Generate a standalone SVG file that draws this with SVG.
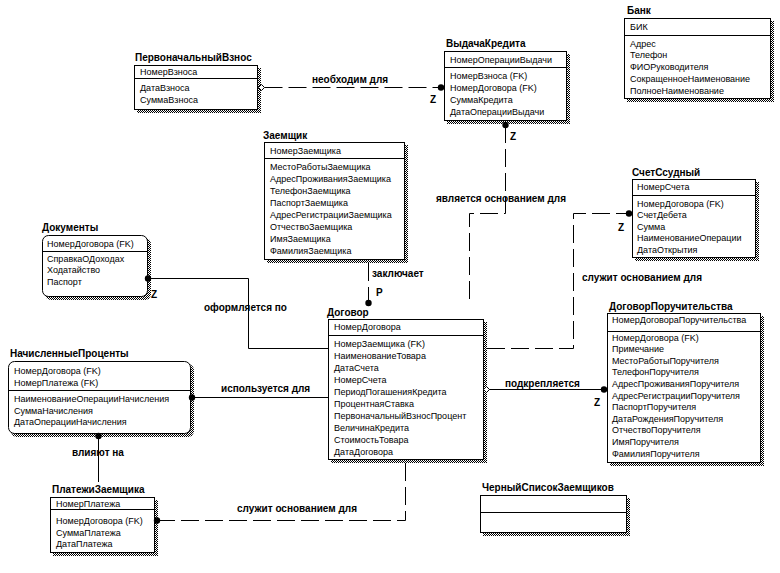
<svg xmlns="http://www.w3.org/2000/svg" width="780" height="573" viewBox="0 0 780 573">
<defs>
<pattern id="dots" width="2" height="2" patternUnits="userSpaceOnUse"><rect width="1" height="1" fill="#000"/><rect x="1" y="1" width="1" height="1" fill="#000"/></pattern>
<style>
.t{font:bold 10px "Liberation Sans",Arial,sans-serif;fill:#000}
.a{font:9px "Liberation Sans",Arial,sans-serif;fill:#000}
.l{font:bold 10px "Liberation Sans",Arial,sans-serif;fill:#000}
.box{fill:#fff;stroke:#000;stroke-width:1}
.sh{fill:url(#dots)}
.div{stroke:#000;stroke-width:1}
.ln{stroke:#000;stroke-width:1;fill:none}
.d{stroke-dasharray:18 6}
.dot{fill:#000}
.dia{fill:#fff;stroke:#000;stroke-width:1}
</style>
</defs>
<rect width="780" height="573" fill="#fff"/>

<g id="pervonachalnyi-vznos">
<rect class="sh" x="137" y="68" width="124" height="45"/>
<rect class="box" x="134.5" y="65.5" width="123" height="44"/>
<line class="div" x1="134.5" y1="78.5" x2="257.5" y2="78.5"/>
<text class="t" x="135" y="61">ПервоначальныйВзнос</text>
<text class="a" x="140" y="75">НомерВзноса</text>
<text class="a" x="140" y="91">ДатаВзноса</text>
<text class="a" x="140" y="103">СуммаВзноса</text>
</g>

<g id="vydacha-kredita">
<rect class="sh" x="447" y="54" width="123" height="70"/>
<rect class="box" x="444.5" y="51.5" width="122" height="69"/>
<line class="div" x1="444.5" y1="67.5" x2="566.5" y2="67.5"/>
<text class="t" x="446" y="47">ВыдачаКредита</text>
<text class="a" x="450" y="63">НомерОперацииВыдачи</text>
<text class="a" x="450" y="78.5">НомерВзноса (FK)</text>
<text class="a" x="450" y="90.5">НомерДоговора (FK)</text>
<text class="a" x="450" y="102.5">СуммаКредита</text>
<text class="a" x="450" y="114.5">ДатаОперацииВыдачи</text>
</g>

<g id="bank">
<rect class="sh" x="627" y="21" width="147" height="81"/>
<rect class="box" x="624.5" y="18.5" width="146" height="80"/>
<line class="div" x1="624.5" y1="35.5" x2="770.5" y2="35.5"/>
<text class="t" x="627" y="14">Банк</text>
<text class="a" x="630" y="30">БИК</text>
<text class="a" x="630" y="46.5">Адрес</text>
<text class="a" x="630" y="58.3">Телефон</text>
<text class="a" x="630" y="70">ФИОРуководителя</text>
<text class="a" x="630" y="81.8">СокращенноеНаименование</text>
<text class="a" x="630" y="93.5">ПолноеНаименование</text>
</g>

<g id="zaemshchik">
<rect class="sh" x="267" y="145" width="141" height="118"/>
<rect class="box" x="264.5" y="142.5" width="140" height="117"/>
<line class="div" x1="264.5" y1="158.5" x2="404.5" y2="158.5"/>
<text class="t" x="263" y="138.5">Заемщик</text>
<text class="a" x="270" y="154">НомерЗаемщика</text>
<text class="a" x="270" y="170">МестоРаботыЗаемщика</text>
<text class="a" x="270" y="182">АдресПроживанияЗаемщика</text>
<text class="a" x="270" y="194">ТелефонЗаемщика</text>
<text class="a" x="270" y="206">ПаспортЗаемщика</text>
<text class="a" x="270" y="218">АдресРегистрацииЗаемщика</text>
<text class="a" x="270" y="230">ОтчествоЗаемщика</text>
<text class="a" x="270" y="242">ИмяЗаемщика</text>
<text class="a" x="270" y="254">ФамилияЗаемщика</text>
</g>

<g id="dokumenty">
<rect class="sh" x="45" y="238" width="106" height="62" rx="6"/>
<rect class="box" x="42.5" y="235.5" width="105" height="61" rx="6"/>
<line class="div" x1="42.5" y1="251.5" x2="147.5" y2="251.5"/>
<text class="t" x="42" y="231">Документы</text>
<text class="a" x="47" y="247">НомерДоговора (FK)</text>
<text class="a" x="47" y="261.5">СправкаОДоходах</text>
<text class="a" x="47" y="273">Ходатайство</text>
<text class="a" x="47" y="284.5">Паспорт</text>
</g>

<g id="schet-ssudnyi">
<rect class="sh" x="635" y="182" width="124" height="79"/>
<rect class="box" x="632.5" y="179.5" width="123" height="78"/>
<line class="div" x1="632.5" y1="195.5" x2="755.5" y2="195.5"/>
<text class="t" x="632" y="175.5">СчетСсудный</text>
<text class="a" x="637" y="190">НомерСчета</text>
<text class="a" x="637" y="206.5">НомерДоговора (FK)</text>
<text class="a" x="637" y="218">СчетДебета</text>
<text class="a" x="637" y="229.5">Сумма</text>
<text class="a" x="637" y="241">НаименованиеОперации</text>
<text class="a" x="637" y="252.5">ДатаОткрытия</text>
</g>

<g id="dogovor">
<rect class="sh" x="331" y="322" width="156" height="141"/>
<rect class="box" x="328.5" y="319.5" width="155" height="140"/>
<line class="div" x1="328.5" y1="335.5" x2="483.5" y2="335.5"/>
<text class="t" x="327" y="316">Договор</text>
<text class="a" x="334" y="329.5">НомерДоговора</text>
<text class="a" x="334" y="346.5">НомерЗаемщика (FK)</text>
<text class="a" x="334" y="358.5">НаименованиеТовара</text>
<text class="a" x="334" y="370.5">ДатаСчета</text>
<text class="a" x="334" y="382.5">НомерСчета</text>
<text class="a" x="334" y="394.5">ПериодПогашенияКредита</text>
<text class="a" x="334" y="406.5">ПроцентнаяСтавка</text>
<text class="a" x="334" y="418.5">ПервоначальныйВзносПроцент</text>
<text class="a" x="334" y="430.5">ВеличинаКредита</text>
<text class="a" x="334" y="442.5">СтоимостьТовара</text>
<text class="a" x="334" y="454.5">ДатаДоговора</text>
</g>

<g id="dogovor-poruchitelstva">
<rect class="sh" x="610" y="316" width="154" height="150"/>
<rect class="box" x="607.5" y="313.5" width="153" height="149"/>
<line class="div" x1="607.5" y1="331.5" x2="760.5" y2="331.5"/>
<text class="t" x="609" y="309.5">ДоговорПоручительства</text>
<text class="a" x="612" y="323">НомерДоговораПоручительства</text>
<text class="a" x="612" y="340.5">НомерДоговора (FK)</text>
<text class="a" x="612" y="352.1">Примечание</text>
<text class="a" x="612" y="363.7">МестоРаботыПоручителя</text>
<text class="a" x="612" y="375.3">ТелефонПоручителя</text>
<text class="a" x="612" y="386.9">АдресПроживанияПоручителя</text>
<text class="a" x="612" y="398.5">АдресРегистрацииПоручителя</text>
<text class="a" x="612" y="410.1">ПаспортПоручителя</text>
<text class="a" x="612" y="421.7">ДатаРожденияПоручителя</text>
<text class="a" x="612" y="433.3">ОтчествоПоручителя</text>
<text class="a" x="612" y="444.9">ИмяПоручителя</text>
<text class="a" x="612" y="456.5">ФамилияПоручителя</text>
</g>

<g id="nachislennye-procenty">
<rect class="sh" x="11" y="364" width="183" height="73" rx="6"/>
<rect class="box" x="8.5" y="361.5" width="182" height="72" rx="6"/>
<line class="div" x1="8.5" y1="390.5" x2="190.5" y2="390.5"/>
<text class="t" x="10" y="357">НачисленныеПроценты</text>
<text class="a" x="14" y="373.5">НомерДоговора (FK)</text>
<text class="a" x="14" y="385.5">НомерПлатежа (FK)</text>
<text class="a" x="14" y="401.5">НаименованиеОперацииНачисления</text>
<text class="a" x="14" y="413.5">СуммаНачисления</text>
<text class="a" x="14" y="425">ДатаОперацииНачисления</text>
</g>

<g id="platezhi-zaemshchika">
<rect class="sh" x="53" y="500" width="105" height="56"/>
<rect class="box" x="50.5" y="497.5" width="104" height="55"/>
<line class="div" x1="50.5" y1="509.5" x2="154.5" y2="509.5"/>
<text class="t" x="52" y="493">ПлатежиЗаемщика</text>
<text class="a" x="56" y="506.5">НомерПлатежа</text>
<text class="a" x="56" y="523.5">НомерДоговора (FK)</text>
<text class="a" x="56" y="535.5">СуммаПлатежа</text>
<text class="a" x="56" y="547">ДатаПлатежа</text>
</g>

<g id="chernyi-spisok">
<rect class="sh" x="483" y="498" width="147" height="38"/>
<rect class="box" x="480.5" y="495.5" width="146" height="37"/>
<line class="div" x1="480.5" y1="512.5" x2="626.5" y2="512.5"/>
<text class="t" x="482" y="491">ЧерныйСписокЗаемщиков</text>
</g>

<g id="connectors">
<!-- ПервоначальныйВзнос -> ВыдачаКредита -->
<path class="ln d" d="M264.5,87.5 H441"/>
<polygon class="dia" points="258.5,87.5 261.5,84.5 264.5,87.5 261.5,90.5"/>
<circle class="dot" cx="441" cy="87.5" r="3.2"/>
<text class="l" x="312" y="82.5">необходим для</text>
<text class="l" x="430" y="102.5">Z</text>

<!-- ВыдачаКредита -> Договор -->
<path class="ln d" d="M505.5,125 V213.5 H469.5 V305"/>
<circle class="dot" cx="505.5" cy="125" r="3.2"/>
<text class="l" x="510" y="139.5">Z</text>
<text class="l" x="436" y="201.5">является основанием для</text>

<!-- Заемщик -> Договор -->
<path class="ln d" d="M368.5,263 V303"/>
<circle class="dot" cx="368.5" cy="303" r="3.2"/>
<text class="l" x="372" y="276.5">заключает</text>
<text class="l" x="376" y="295.5">P</text>

<!-- Документы -> Договор -->
<path class="ln" d="M148,278.5 H248.5 V348.5 H328.5"/>
<circle class="dot" cx="148" cy="278.5" r="3.2"/>
<text class="l" x="151" y="297.5">Z</text>
<text class="l" x="204" y="310.5">оформляется по</text>

<!-- НачисленныеПроценты -> Договор -->
<path class="ln" d="M192,397.5 H328.5"/>
<circle class="dot" cx="192" cy="397.5" r="3.2"/>
<text class="l" x="221" y="391.5">используется для</text>

<!-- ПлатежиЗаемщика -> НачисленныеПроценты -->
<path class="ln" d="M98.5,436 V482"/>
<circle class="dot" cx="98.5" cy="436" r="3.2"/>
<text class="l" x="72" y="455.5">влияют на</text>

<!-- ПлатежиЗаемщика -> Договор -->
<path class="ln d" d="M157,520.5 H405.5 V463"/>
<circle class="dot" cx="157" cy="520.5" r="3.2"/>
<text class="l" x="237" y="511.5">служит основанием для</text>

<!-- Договор -> СчетСсудный -->
<path class="ln d" d="M487,348.5 H573.5 V213.5 H629"/>
<circle class="dot" cx="629" cy="213.5" r="3.2"/>
<text class="l" x="618" y="230.5">Z</text>
<text class="l" x="582" y="280.5">служит основанием для</text>

<!-- Договор -> ДоговорПоручительства -->
<path class="ln" d="M489,389.5 H604"/>
<polygon class="dia" points="483.5,389.5 486.5,386.5 489.5,389.5 486.5,392.5"/>
<circle class="dot" cx="604" cy="389.5" r="3.2"/>
<text class="l" x="505" y="386.5">подкрепляется</text>
<text class="l" x="594" y="405.5">Z</text>
</g>
</svg>
